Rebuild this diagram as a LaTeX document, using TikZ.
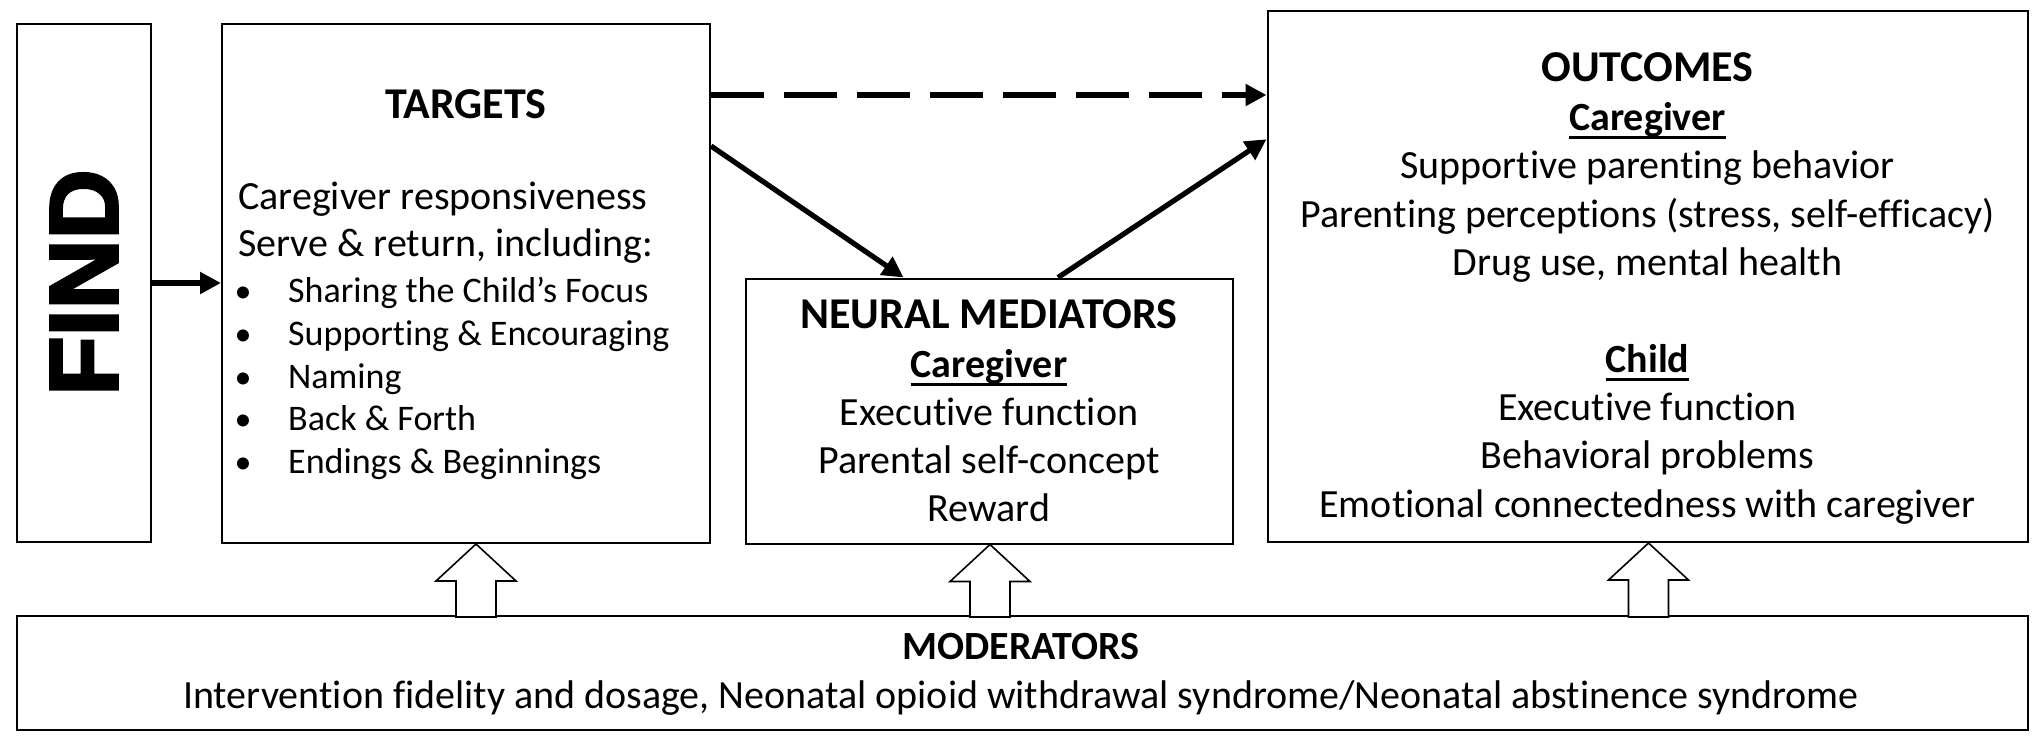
\documentclass[tikz,border=0pt]{standalone}
\usepackage{fontspec}
\setmainfont{Carlito}[Ligatures=NoCommon]
\newfontfamily\findfont{Liberation Sans}[FakeBold=3]
\usetikzlibrary{arrows.meta}
\newcommand\myuline[1]{\setbox0\hbox{#1}\rlap{\rule[-8.5pt]{\wd0}{2.5pt}}\box0}
\begin{document}
\begin{tikzpicture}[x=1pt,y=-1pt,
  box/.style={draw=black, line width=2pt, inner sep=0pt},
  txt/.style={inner sep=0pt, anchor=base, font=\fontsize{40}{48}\selectfont},
  txtl/.style={inner sep=0pt, anchor=base west, font=\fontsize{40}{48}\selectfont},
  ttl/.style={inner sep=0pt, anchor=base, font=\fontsize{44}{52}\selectfont\bfseries},
  sub/.style={inner sep=0pt, anchor=base, font=\fontsize{40}{48}\selectfont\bfseries},
  sm/.style={inner sep=0pt, anchor=base west, font=\fontsize{36}{43}\selectfont},
  bul/.style={inner sep=0pt, anchor=base, font=\fontsize{34}{43}\selectfont},
  conn/.style={line width=5.2pt, -{Triangle[length=21pt,width=21pt]}},
  blockarrow/.style={draw=black, line width=1.6pt, fill=white, line join=miter}]
\useasboundingbox (0,0) rectangle (2040,748);
\fill[white] (0,0) rectangle (2040,748);

% boxes
\node[box, minimum width=134.5pt, minimum height=518pt] (find) at (83.75,283) {};
\node[box, minimum width=488pt, minimum height=519pt] (targets) at (466,283.5) {};
\node[box, minimum width=487pt, minimum height=265pt] (neural) at (989,411) {};
\node[box, minimum width=760pt, minimum height=531.5pt] (outcomes) at (1647.5,276.25) {};
\node[box, minimum width=2011pt, minimum height=114pt] (mod) at (1022,673) {};

% FIND
\node[rotate=90, inner sep=0pt, font=\findfont\bfseries\fontsize{97}{97}\selectfont] (findtxt) at (84,282.5) {FIND};

% TARGETS
\node[ttl] (tt) at (466,118) {TARGETS};
\node[txtl] (t1) at (238,209) {Caregiver responsiveness};
\node[txtl] (t2) at (238,256) {Serve \& return, including:};
\node[bul] (b1) at (243,302) {\textbullet};
\node[bul] (b2) at (243,345) {\textbullet};
\node[bul] (b3) at (243,388) {\textbullet};
\node[bul] (b4) at (243,430) {\textbullet};
\node[bul] (b5) at (243,473) {\textbullet};
\node[sm] (s1) at (288,302) {Sharing the Child’s Focus};
\node[sm] (s2) at (288,345) {Supporting \& Encouraging};
\node[sm] (s3) at (288,388) {Naming};
\node[sm] (s4) at (288,430) {Back \& Forth};
\node[sm] (s5) at (288,473) {Endings \& Beginnings};

% NEURAL MEDIATORS
\node[ttl] (nt) at (989,328) {NEURAL MEDIATORS};
\node[sub] (nc) at (989,377) {\myuline{Caregiver}};
\node[txt] (n1) at (989,425) {Executive function};
\node[txt] (n2) at (989,473) {Parental self-concept};
\node[txt] (n3) at (989,521) {Reward};

% OUTCOMES
\node[ttl] (ot) at (1647.5,81) {OUTCOMES};
\node[sub] (oc) at (1647.5,130) {\myuline{Caregiver}};
\node[txt] (o1) at (1647.5,178) {Supportive parenting behavior};
\node[txt] (o2) at (1647.5,227) {Parenting perceptions (stress, self-efficacy)};
\node[txt] (o3) at (1647.5,275) {Drug use, mental health};
\node[sub] (och) at (1647.5,372) {\myuline{Child}};
\node[txt] (o4) at (1647.5,420) {Executive function};
\node[txt] (o5) at (1647.5,468) {Behavioral problems};
\node[txt] (o6) at (1647.5,517) {Emotional connectedness with caregiver};

% MODERATORS
\node[sub] (mt) at (1021,659) {MODERATORS};
\node[txt] (m1) at (1021,708) {Intervention fidelity and dosage, Neonatal opioid withdrawal syndrome/Neonatal abstinence syndrome};

% connectors
\draw[conn] (find.east) -- (find.east -| targets.west);
\draw[conn, line width=6pt, dash pattern=on 53pt off 20pt] ([yshift=188.5pt]targets.east) -- ([yshift=188.5pt]targets.east -| outcomes.west);
\draw[conn] ([yshift=137.5pt]targets.east) -- ([xshift=-85.4pt]neural.north);
\draw[conn] ([xshift=69pt]neural.north) -- ([yshift=137pt]outcomes.west);

% moderator block arrows
\draw[blockarrow] ([xshift=10pt]targets.south) -- ++(40,37) -- ++(-20,0) -- ++(0,36) -- ++(-40,0) -- ++(0,-36) -- ++(-20,0) -- cycle;
\draw[blockarrow] ([xshift=1pt]neural.south) -- ++(40,37) -- ++(-20,0) -- ++(0,35.5) -- ++(-40,0) -- ++(0,-35.5) -- ++(-20,0) -- cycle;
\draw[blockarrow] ([xshift=1pt]outcomes.south) -- ++(40,37) -- ++(-20,0) -- ++(0,37) -- ++(-40,0) -- ++(0,-37) -- ++(-20,0) -- cycle;
\end{tikzpicture}
\end{document}
